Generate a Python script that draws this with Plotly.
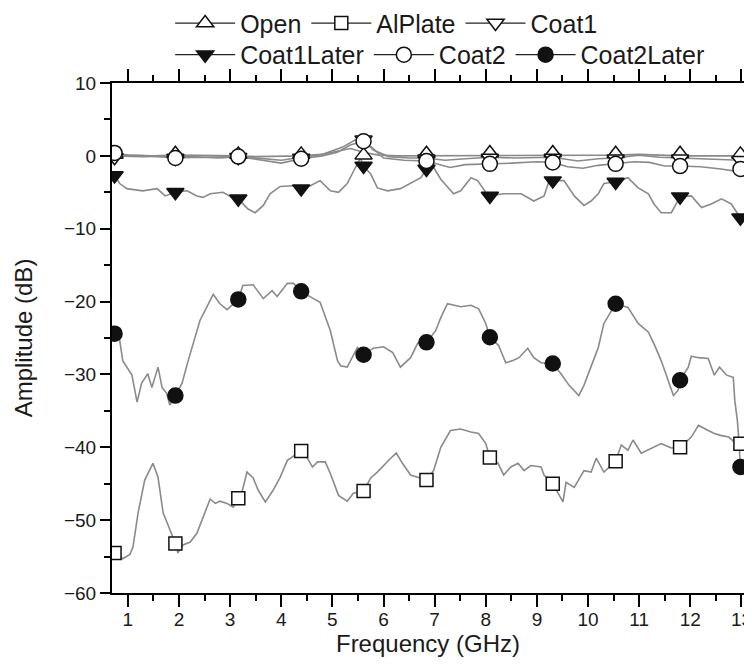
import plotly.graph_objects as go

# ---------------- data ----------------
marker_f = [0.74, 1.93, 3.16, 4.39, 5.61, 6.84, 8.08, 9.31, 10.54, 11.80, 12.98]

open_f = [0.74, 1.2, 1.5, 1.93, 2.5, 3.16, 3.5, 4.0, 4.39, 4.8, 5.1, 5.35, 5.61, 5.9, 6.3, 6.84, 7.5, 8.08, 8.8, 9.31, 10.0, 10.54, 11.0, 11.80, 12.4, 12.98]
open_v = [0.1, 0.0, 0.0, 0.1, 0.1, 0.0, -0.1, -0.1, 0.0, 0.2, 0.6, 1.0, 0.5, 0.1, 0.0, 0.0, 0.1, 0.1, 0.0, 0.1, 0.0, 0.1, 0.2, 0.0, 0.0, 0.0]
open_m = [0.2, 0.3, 0.2, 0.2, 0.1, 0.3, 0.4, 0.4, 0.3, 0.3, 0.2]

coat1_f = [0.74, 1.3, 1.93, 2.5, 3.16, 3.7, 4.0, 4.39, 4.8, 5.2, 5.45, 5.61, 5.8, 6.1, 6.5, 6.84, 7.2, 7.6, 8.08, 8.6, 9.31, 9.8, 10.2, 10.54, 11.0, 11.4, 11.80, 12.3, 12.98]
coat1_v = [0.0, -0.1, 0.0, -0.2, -0.1, -0.4, -0.6, -0.2, 0.2, 1.2, 2.2, 2.2, 0.8, -0.1, -0.3, -0.3, -0.6, -0.4, -0.2, -0.3, -0.2, -0.7, -0.4, -0.3, 0.1, -0.2, -0.3, -0.4, -0.6]
coat1_m = [-0.2, -0.3, -0.2, -0.3, 2.2, -0.4, -0.3, -0.3, -0.4, -0.4, -0.6]

coat2_f = [0.74, 1.0, 1.4, 1.93, 2.4, 2.8, 3.16, 3.6, 4.0, 4.39, 4.8, 5.1, 5.35, 5.61, 5.8, 6.0, 6.4, 6.84, 7.1, 7.3, 7.6, 8.08, 8.5, 9.0, 9.31, 9.6, 9.9, 10.2, 10.54, 10.9, 11.2, 11.5, 11.80, 12.2, 12.6, 12.98]
coat2_v = [0.4, 0.1, 0.0, -0.3, -0.2, -0.3, -0.1, -0.6, -1.0, -0.4, 0.0, 0.5, 1.5, 2.0, 1.0, -0.3, -0.6, -0.7, -1.2, -1.6, -1.2, -1.1, -1.0, -0.8, -0.9, -1.5, -1.7, -1.3, -1.1, -0.8, -0.9, -1.4, -1.4, -1.5, -1.8, -2.2]
coat2_m = [0.4, -0.3, -0.1, -0.4, 2.0, -0.7, -1.1, -0.9, -1.1, -1.4, -1.8]

coat1l_f = [0.74, 0.84, 0.98, 1.29, 1.57, 1.73, 1.93, 2.16, 2.35, 2.47, 2.61, 2.86, 3.04, 3.16, 3.35, 3.49, 3.65, 3.78, 3.98, 4.22, 4.39, 4.57, 4.76, 4.96, 5.12, 5.29, 5.45, 5.55, 5.61, 5.75, 5.88, 6.08, 6.33, 6.53, 6.73, 6.84, 6.98, 7.12, 7.27, 7.37, 7.51, 7.71, 7.84, 8.00, 8.08, 8.35, 8.69, 8.94, 9.14, 9.24, 9.31, 9.53, 9.73, 9.92, 10.06, 10.20, 10.31, 10.54, 10.78, 10.98, 11.18, 11.29, 11.43, 11.63, 11.80, 12.02, 12.22, 12.41, 12.61, 12.80, 12.98]
coat1l_v = [-2.7, -3.8, -4.5, -4.8, -4.5, -5.5, -5.0, -4.8, -5.5, -5.7, -5.2, -5.0, -5.7, -5.9, -7.3, -7.8, -6.8, -5.2, -4.2, -4.1, -4.5, -4.1, -3.4, -4.8, -5.0, -3.8, -1.6, -0.3, -1.4, -2.5, -4.4, -4.8, -4.5, -3.8, -3.0, -1.8, -1.6, -3.2, -4.4, -5.2, -4.8, -3.0, -3.4, -5.0, -5.5, -5.2, -5.2, -6.2, -5.5, -3.4, -3.4, -3.4, -5.5, -6.8, -6.2, -5.2, -3.8, -3.6, -3.0, -4.4, -5.2, -6.6, -7.8, -7.8, -5.6, -5.5, -7.1, -6.6, -5.9, -6.6, -8.5]
coat1l_m = [-2.7, -5.0, -5.9, -4.5, -1.4, -1.8, -5.5, -3.4, -3.6, -5.6, -8.5]

coat2l_f = [0.74, 0.84, 0.90, 1.08, 1.18, 1.27, 1.39, 1.47, 1.59, 1.67, 1.76, 1.82, 1.93, 2.06, 2.18, 2.41, 2.67, 2.80, 2.94, 3.16, 3.25, 3.45, 3.65, 3.82, 3.92, 4.12, 4.24, 4.39, 4.63, 4.76, 4.96, 5.10, 5.16, 5.29, 5.49, 5.61, 5.80, 6.00, 6.18, 6.33, 6.53, 6.67, 6.84, 7.02, 7.12, 7.25, 7.51, 7.71, 7.86, 8.00, 8.08, 8.25, 8.39, 8.53, 8.65, 8.82, 8.94, 9.08, 9.31, 9.47, 9.63, 9.82, 9.92, 10.06, 10.20, 10.31, 10.54, 10.78, 10.98, 11.18, 11.29, 11.43, 11.57, 11.67, 11.76, 11.80, 11.96, 12.02, 12.16, 12.35, 12.47, 12.57, 12.71, 12.84, 12.87, 12.92, 12.95, 12.98]
coat2l_v = [-24.4, -25.3, -28.1, -30.1, -33.8, -31.2, -29.9, -31.8, -29.0, -31.8, -32.6, -34.2, -32.9, -31.2, -28.1, -22.6, -19.0, -20.3, -21.1, -19.7, -17.8, -17.7, -19.6, -18.5, -19.3, -17.5, -17.5, -18.6, -19.6, -20.1, -24.0, -28.1, -28.8, -29.0, -26.3, -27.3, -26.4, -26.2, -27.0, -29.0, -27.7, -25.7, -25.6, -24.0, -22.2, -20.3, -20.7, -20.5, -21.0, -23.0, -24.9, -26.0, -28.4, -28.1, -27.7, -26.4, -27.7, -28.4, -28.5, -29.9, -31.5, -32.9, -31.5, -29.0, -26.3, -23.0, -20.3, -20.8, -23.0, -24.2, -25.8, -28.1, -30.8, -32.9, -32.2, -30.8, -29.0, -27.5, -27.7, -27.8, -30.1, -29.0, -30.1, -30.4, -33.6, -36.3, -39.0, -42.7]
coat2l_m = [-24.4, -32.9, -19.7, -18.6, -27.3, -25.6, -24.9, -28.5, -20.3, -30.8, -42.7]

alplate_f = [0.74, 0.90, 1.04, 1.10, 1.20, 1.33, 1.49, 1.59, 1.69, 1.82, 1.93, 1.98, 2.08, 2.22, 2.35, 2.45, 2.61, 2.71, 2.80, 2.94, 3.06, 3.16, 3.24, 3.33, 3.45, 3.55, 3.69, 3.84, 3.98, 4.12, 4.22, 4.39, 4.51, 4.61, 4.71, 4.86, 4.96, 5.12, 5.29, 5.41, 5.61, 5.75, 5.88, 6.04, 6.14, 6.25, 6.37, 6.53, 6.67, 6.84, 6.98, 7.12, 7.31, 7.51, 7.71, 7.86, 8.00, 8.08, 8.24, 8.35, 8.49, 8.63, 8.75, 8.88, 9.08, 9.14, 9.31, 9.51, 9.57, 9.73, 9.92, 10.06, 10.16, 10.31, 10.54, 10.65, 10.78, 10.88, 11.04, 11.24, 11.43, 11.63, 11.80, 12.02, 12.16, 12.35, 12.47, 12.61, 12.75, 12.90, 12.98]
alplate_v = [-54.5, -55.3, -54.7, -53.7, -49.0, -44.5, -42.2, -44.1, -49.0, -51.4, -53.2, -54.5, -53.4, -53.0, -51.8, -50.0, -47.1, -47.7, -47.4, -47.7, -48.2, -47.0, -45.9, -43.4, -44.2, -45.9, -47.5, -45.9, -44.1, -41.8, -41.3, -40.5, -41.5, -42.7, -42.0, -42.0, -43.6, -46.6, -47.4, -46.3, -46.0, -44.2, -43.4, -42.2, -41.5, -40.8, -42.2, -43.8, -44.1, -44.5, -43.2, -40.0, -37.7, -37.5, -37.9, -38.1, -39.5, -41.4, -42.2, -43.8, -42.7, -42.2, -43.2, -42.5, -42.7, -43.8, -45.0, -47.5, -44.8, -45.5, -43.2, -43.4, -41.5, -43.4, -41.9, -39.7, -40.4, -39.0, -40.8, -40.1, -39.5, -40.1, -40.0, -38.6, -37.0, -37.7, -38.1, -38.4, -38.6, -39.5, -39.5]
alplate_m = [-54.5, -53.2, -47.0, -40.5, -46.0, -44.5, -41.4, -45.0, -41.9, -40.0, -39.5]

x_ticks = [1, 2, 3, 4, 5, 6, 7, 8, 9, 10, 11, 12, 13]
y_ticks = [10, 0, -10, -20, -30, -40, -50, -60]

# ---------------- styling ----------------
FONT = "Liberation Sans, Arial, Helvetica, sans-serif"
LINE_GRAY = "#8a8a8a"
INK = "#111111"

series = [
    ("Open", open_f, open_v, open_m, "triangle-up", "white", "legend"),
    ("AlPlate", alplate_f, alplate_v, alplate_m, "square", "white", "legend"),
    ("Coat1", coat1_f, coat1_v, coat1_m, "triangle-down", "white", "legend"),
    ("Coat1Later", coat1l_f, coat1l_v, coat1l_m, "triangle-down", INK, "legend2"),
    ("Coat2", coat2_f, coat2_v, coat2_m, "circle", "white", "legend2"),
    ("Coat2Later", coat2l_f, coat2l_v, coat2l_m, "circle", INK, "legend2"),
]
sizes = {"triangle-up": 15, "triangle-down": 15, "square": 13, "circle": 15}

fig = go.Figure()

for name, f, v, m, sym, fill, lg in series:
    fig.add_trace(go.Scatter(
        x=f, y=v, mode="lines", name=name, showlegend=False,
        line=dict(color=LINE_GRAY, width=1.6), hoverinfo="skip"))

for name, f, v, m, sym, fill, lg in series:
    xs, ys = [], []
    for a, b in zip(marker_f, m):
        xs += [a, None]
        ys += [b, None]
    fig.add_trace(go.Scatter(
        x=xs, y=ys, mode="lines+markers", name=name, legend=lg,
        connectgaps=False,
        line=dict(color="#222222", width=1.2),
        marker=dict(symbol=sym, size=sizes[sym], color=fill,
                    line=dict(color=INK, width=1.5))))

axis_common = dict(
    showline=True, linecolor="black", linewidth=2, mirror="allticks",
    ticks="outside", tickwidth=2, tickcolor="black",
    showgrid=False, zeroline=False, ticklabeloverflow="allow",
    tickfont=dict(family=FONT, size=19, color="#1a1a1a"),
)

fig.update_xaxes(
    **axis_common, ticklen=12, ticklabelstandoff=-4,
    range=[0.69, 13.05], tickvals=x_ticks,
    ticktext=[str(t) for t in x_ticks],
    minor=dict(dtick=0.5, tick0=0.5, ticks="outside", ticklen=6, tickwidth=2, tickcolor="black"),
    title=dict(text="Frequency (GHz)", font=dict(family=FONT, size=24, color="#1a1a1a"), standoff=4),
)
fig.update_yaxes(
    **axis_common, ticklen=10,
    range=[-60, 10], tickvals=y_ticks,
    minor=dict(dtick=5, tick0=0, ticks="outside", ticklen=6, tickwidth=2, tickcolor="black"),
    title=dict(text="Amplitude (dB)", font=dict(family=FONT, size=24, color="#1a1a1a"), standoff=25),
)

leg_common = dict(orientation="h", xanchor="left", yanchor="middle",
                  bgcolor="rgba(0,0,0,0)", borderwidth=0,
                  font=dict(family=FONT, size=25, color="#1a1a1a"),
                  itemsizing="trace", itemwidth=60, tracegroupgap=0)
# the page body adds an 8px offset; figure size/margins compensate for it
fig.update_layout(
    width=744, height=663,
    margin=dict(l=104, r=8, t=75, b=78, autoexpand=False),
    paper_bgcolor="white", plot_bgcolor="white",
    showlegend=True,
    legend=dict(**leg_common, x=0.092, y=1.117),
    legend2=dict(**leg_common, x=0.092, y=1.055),
)

fig.write_html("out.html")
